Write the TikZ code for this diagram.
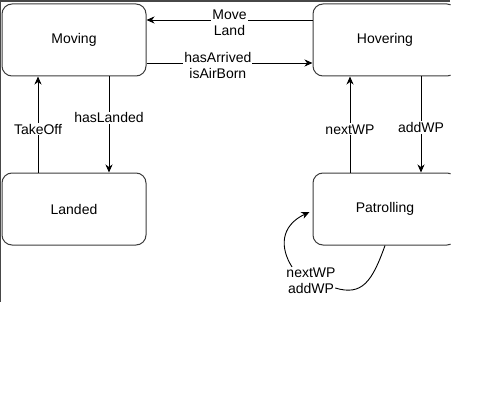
\documentclass[tikz,border=0pt]{standalone}
\usepackage{fontspec}
\setmainfont{Liberation Sans}
\usetikzlibrary{positioning,arrows.meta}
\definecolor{FrameGray}{HTML}{474747}
\definecolor{BoxLine}{HTML}{3C3C3C}
\tikzset{
  statebox/.style={draw=BoxLine, fill=white, rounded corners=10pt, line width=1pt, minimum width=144pt, minimum height=72pt, font=\fontsize{14}{16}\selectfont},
  trans/.style={-{Stealth[length=8pt,width=7pt,inset=2.5pt]}, line width=0.9pt},
  translbl/.style={fill=white, inner sep=1pt, align=center, font=\fontsize{14}{16}\selectfont}
}
\begin{document}
\begin{tikzpicture}[x=1pt, y=-1pt]
\useasboundingbox (0,0) rectangle (504,404);
% window frame
\fill[FrameGray] (0,0) rectangle (450,2);
\fill[FrameGray] (0,0) rectangle (1.3,302);
\begin{scope}
\clip (0,0) rectangle (450.5,404);
\node[statebox] (moving) at (74,40) {Moving};
\node[statebox, below=96pt of moving] (landed) {Landed};
\node[statebox, right=166pt of moving] (hovering) {Hovering};
\node[statebox, below=96pt of hovering] (patrol) {Patrolling};
\end{scope}
% top transitions
\draw[trans] ([yshift=20pt]hovering.west) -- node[translbl, yshift=-2.5pt]{Move\\Land} ([yshift=20pt]moving.east);
\draw[trans] ([yshift=-23pt]moving.east) -- node[translbl, pos=0.43, yshift=-2pt]{hasArrived\\isAirBorn} ([yshift=-23pt]hovering.west);
% left side
\draw[trans] ([xshift=-36pt]landed.north) -- node[translbl, pos=0.45]{TakeOff} ([xshift=-36pt]moving.south);
\draw[trans] ([xshift=35pt]moving.south) -- node[translbl, pos=0.43]{hasLanded} ([xshift=35pt]landed.north);
% right side
\draw[trans] ([xshift=-35pt]patrol.north) -- node[translbl, pos=0.45]{nextWP} ([xshift=-35pt]hovering.south);
\draw[trans] ([xshift=36pt]hovering.south) -- node[translbl, pos=0.53]{addWP} ([xshift=36pt]patrol.north);
% self loop
\node[translbl] (looplbl) at (311,281) {nextWP\\addWP};
\draw[line width=0.9pt] (patrol.south) .. controls (372,282) and (362,296) .. ([xshift=-1.5pt,yshift=-7pt]looplbl.east);
\draw[trans] ([xshift=-19pt]looplbl.north) .. controls (280,248) and (280,226) .. ([xshift=-3pt,yshift=-3pt]patrol.west);
\end{tikzpicture}
\end{document}
